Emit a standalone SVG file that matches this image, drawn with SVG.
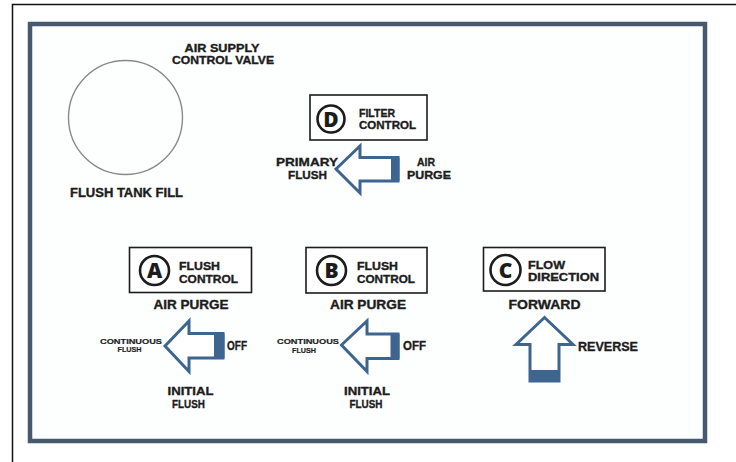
<svg xmlns="http://www.w3.org/2000/svg" width="736" height="462" viewBox="0 0 736 462">
<style>
.t{font-family:"Liberation Sans",Arial,sans-serif;font-weight:700;fill:#1c1c1c;stroke:#1c1c1c;stroke-width:0.35;font-size:12.5px}
.two{font-size:11.1px}
.thr{font-size:11.6px}
.s{font-size:7.5px;stroke-width:0.2}
.m{text-anchor:middle}
.box{fill:#fff;stroke:#1c1c1c;stroke-width:1.6}
.ring{fill:none;stroke:#1c1c1c;stroke-width:2.6}
.ltr{font-family:"Open Sans","Liberation Sans",sans-serif;font-weight:800;font-size:21px;fill:#1c1c1c;text-anchor:middle}
.arr{fill:#fff;stroke:#3e6590;stroke-width:3;stroke-linejoin:miter}
.blk{fill:#3e6590}
</style>
<rect width="736" height="462" fill="#fff"/>
<g id="outer-border">
<path d="M12.5 462 V4.5 H736" fill="none" stroke="#111" stroke-width="1.5"/>
</g>
<g id="panel-frame">
<rect x="30" y="24" width="675" height="417" fill="#fdfefe" stroke="#46596e" stroke-width="4.5"/>
</g>
<g id="air-supply-valve">
<text class="t two m" x="222" y="51.5" textLength="75" lengthAdjust="spacingAndGlyphs">AIR SUPPLY</text>
<text class="t two m" x="223" y="64" textLength="102" lengthAdjust="spacingAndGlyphs">CONTROL VALVE</text>
<circle cx="125.5" cy="117.5" r="57" fill="none" stroke="#8a8a8a" stroke-width="1.4"/>
<text class="t m" x="126.5" y="197" textLength="113" lengthAdjust="spacingAndGlyphs">FLUSH TANK FILL</text>
</g>
<g id="filter-control-D">
<rect class="box" x="310" y="95" width="117" height="45"/>
<circle class="ring" cx="331" cy="119" r="13.5"/>
<text class="ltr" x="331" y="126.5">D</text>
<text class="t two" x="359" y="116.5" textLength="36" lengthAdjust="spacingAndGlyphs">FILTER</text>
<text class="t two" x="359" y="129" textLength="57" lengthAdjust="spacingAndGlyphs">CONTROL</text>
<polygon class="arr" points="336,169 360,146 360,157.5 398,157.5 398,181 360,181 360,193"/>
<rect class="blk" x="391" y="157.5" width="8.5" height="23.5"/>
<text class="t thr m" x="307" y="166" textLength="62" lengthAdjust="spacingAndGlyphs">PRIMARY</text>
<text class="t thr m" x="307.5" y="179" textLength="39" lengthAdjust="spacingAndGlyphs">FLUSH</text>
<text class="t thr m" x="426" y="166" textLength="18" lengthAdjust="spacingAndGlyphs">AIR</text>
<text class="t thr m" x="429" y="179" textLength="44" lengthAdjust="spacingAndGlyphs">PURGE</text>
</g>
<g id="flush-control-A">
<rect class="box" x="129.5" y="247.5" width="122" height="45"/>
<circle class="ring" cx="154.5" cy="270.5" r="14.5"/>
<text class="ltr" x="154.5" y="278">A</text>
<text class="t two" x="179" y="270" textLength="41" lengthAdjust="spacingAndGlyphs">FLUSH</text>
<text class="t two" x="179" y="282.5" textLength="59" lengthAdjust="spacingAndGlyphs">CONTROL</text>
<text class="t m" x="191" y="309" textLength="75" lengthAdjust="spacingAndGlyphs">AIR PURGE</text>
<polygon class="arr" points="165,346 189,321 189,333.5 223,333.5 223,358 189,358 189,371.5"/>
<rect class="blk" x="214" y="333.5" width="10.5" height="24.5"/>
<text class="t" x="227" y="350" textLength="20" lengthAdjust="spacingAndGlyphs">OFF</text>
<text class="t s m" x="131" y="343.5" textLength="62" lengthAdjust="spacingAndGlyphs">CONTINUOUS</text>
<text class="t s m" x="129.5" y="352" textLength="24" lengthAdjust="spacingAndGlyphs">FLUSH</text>
<text class="t thr m" x="190.5" y="395" textLength="46" lengthAdjust="spacingAndGlyphs">INITIAL</text>
<text class="t thr m" x="188.5" y="408" textLength="33" lengthAdjust="spacingAndGlyphs">FLUSH</text>
</g>
<g id="flush-control-B">
<rect class="box" x="306" y="247.5" width="121" height="45.5"/>
<circle class="ring" cx="331.5" cy="270.5" r="14.5"/>
<text class="ltr" x="331.5" y="278">B</text>
<text class="t two" x="357" y="270" textLength="41" lengthAdjust="spacingAndGlyphs">FLUSH</text>
<text class="t two" x="357" y="282.5" textLength="58" lengthAdjust="spacingAndGlyphs">CONTROL</text>
<text class="t m" x="368" y="309" textLength="76" lengthAdjust="spacingAndGlyphs">AIR PURGE</text>
<polygon class="arr" points="341.5,345 367,321 367,334 398,334 398,358.5 367,358.5 367,371.5"/>
<rect class="blk" x="390.5" y="334" width="9" height="24.5"/>
<text class="t" x="403" y="350" textLength="23" lengthAdjust="spacingAndGlyphs">OFF</text>
<text class="t s m" x="308" y="344" textLength="62" lengthAdjust="spacingAndGlyphs">CONTINUOUS</text>
<text class="t s m" x="304" y="352.5" textLength="24" lengthAdjust="spacingAndGlyphs">FLUSH</text>
<text class="t thr m" x="367" y="395" textLength="46" lengthAdjust="spacingAndGlyphs">INITIAL</text>
<text class="t thr m" x="366" y="408" textLength="33" lengthAdjust="spacingAndGlyphs">FLUSH</text>
</g>
<g id="flow-direction-C">
<rect class="box" x="483.5" y="247.5" width="121.5" height="43.5"/>
<circle class="ring" cx="505.5" cy="270" r="15"/>
<text class="ltr" x="505.5" y="277.5">C</text>
<text class="t two" x="528" y="268.5" textLength="37" lengthAdjust="spacingAndGlyphs">FLOW</text>
<text class="t two" x="528" y="281" textLength="71" lengthAdjust="spacingAndGlyphs">DIRECTION</text>
<text class="t m" x="544.5" y="309" textLength="72" lengthAdjust="spacingAndGlyphs">FORWARD</text>
<polygon class="arr" points="544.5,317.5 516,344.5 530,344.5 530,381 559,381 559,344.5 573,344.5"/>
<rect class="blk" x="529" y="370" width="31" height="12"/>
<text class="t" x="578" y="351" textLength="60" lengthAdjust="spacingAndGlyphs">REVERSE</text>
</g>
</svg>
